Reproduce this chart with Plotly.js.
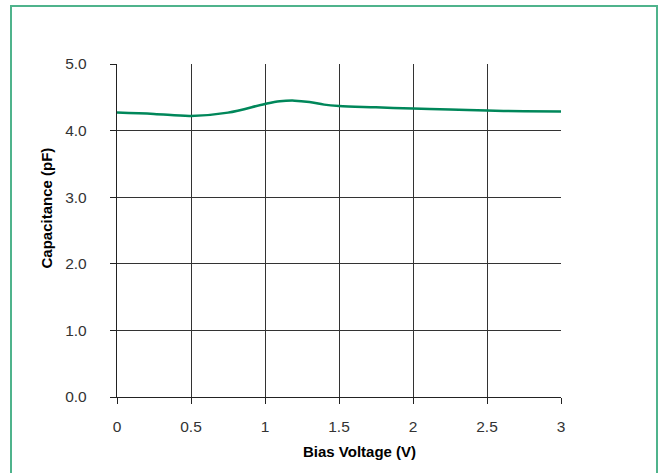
<!DOCTYPE html>
<html>
<head>
<meta charset="utf-8">
<script src="https://cdn.plot.ly/plotly-3.0.1.min.js"></script>
<style>html,body{margin:0;padding:0;background:#fff;}#chart{width:659px;height:473px;}</style>
</head>
<body>
<div id="chart"></div>
<script>
const biasVoltage = [0, 0.25, 0.5, 0.75, 1.0, 1.1, 1.2, 1.3, 1.4, 1.5, 1.75, 2.0, 2.25, 2.5, 2.75, 3.0];
const capacitance = [4.27, 4.25, 4.22, 4.27, 4.40, 4.44, 4.45, 4.43, 4.39, 4.37, 4.35, 4.33, 4.315, 4.30, 4.29, 4.285];
const xTickVals = [0, 0.5, 1, 1.5, 2, 2.5, 3];
const xTickText = ["0", "0.5", "1", "1.5", "2", "2.5", "3"];
const yTickVals = [0, 1, 2, 3, 4, 5];
const yTickText = ["0.0", "1.0", "2.0", "3.0", "4.0", "5.0"];
const xTitle = "Bias Voltage (V)";
const yTitle = "Capacitance (pF)";

const tickFont = {family: '"Liberation Sans Narrow", "Arial Narrow", "Liberation Sans", sans-serif', size: 15.5, color: '#333'};
const titleFont = {family: '"Liberation Sans", Arial, sans-serif', size: 15, color: '#000'};

const trace = {
  x: biasVoltage, y: capacitance, type: 'scatter', mode: 'lines',
  line: {color: '#00875a', width: 2.5, shape: 'spline', smoothing: 1.0},
  hoverinfo: 'skip'
};
const layout = {
  width: 659, height: 473,
  margin: {l: 117, r: 98, t: 64, b: 76},
  paper_bgcolor: '#ffffff', plot_bgcolor: '#ffffff',
  showlegend: false,
  font: tickFont,
  xaxis: {
    range: [0, 3], tickvals: xTickVals, ticktext: xTickText,
    showgrid: true, gridcolor: '#333', gridwidth: 1,
    showline: true, linecolor: '#222', linewidth: 1.2,
    ticks: 'outside', ticklen: 6, tickcolor: '#222',
    ticklabelstandoff: 9, zeroline: false,
    tickfont: tickFont
  },
  yaxis: {
    range: [0, 5], tickvals: yTickVals, ticktext: yTickText,
    showgrid: true, gridcolor: '#333', gridwidth: 1,
    showline: true, linecolor: '#222', linewidth: 1.2,
    ticks: 'outside', ticklen: 6, tickcolor: '#222',
    ticklabelstandoff: 20, zeroline: false,
    tickfont: tickFont
  },
  annotations: [
    {text: '<b>' + xTitle + '</b>', xref: 'paper', yref: 'paper',
     x: (359.5 - 117) / 444, y: (397 - 451) / 333, xanchor: 'center', yanchor: 'middle',
     showarrow: false, font: titleFont},
    {text: '<b>' + yTitle + '</b>', xref: 'paper', yref: 'paper',
     x: (45.5 - 117) / 444, y: (397 - 208) / 333, xanchor: 'center', yanchor: 'middle',
     textangle: -90, showarrow: false, font: titleFont}
  ],
  shapes: [{
    type: 'rect', xref: 'paper', yref: 'paper',
    x0: (11 - 117) / 444, x1: (657 - 117) / 444,
    y0: (397 - 480) / 333, y1: (397 - 6) / 333,
    line: {color: '#4fb38c', width: 2}, fillcolor: 'rgba(0,0,0,0)', layer: 'above'
  }]
};
Plotly.newPlot('chart', [trace], layout, {displayModeBar: false, staticPlot: true});
</script>
</body>
</html>
